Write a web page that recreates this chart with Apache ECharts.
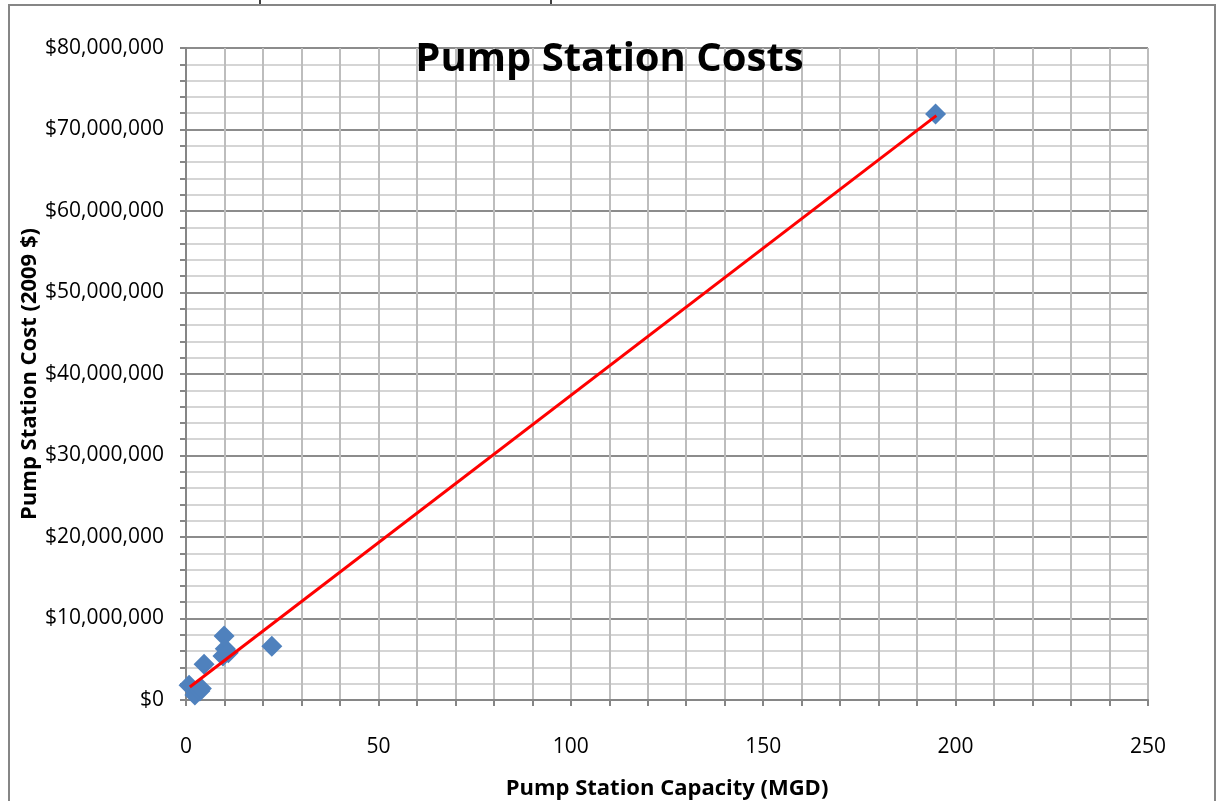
<!DOCTYPE html>
<html>
<head>
<meta charset="utf-8">
<script src="https://cdn.jsdelivr.net/npm/echarts@6/dist/echarts.min.js"></script>
<style>html,body{margin:0;padding:0;background:#fff}#c{width:1219px;height:801px}</style>
</head>
<body>
<div id="c"></div>
<script>
// Data (capacity in MGD, cost in 2009 $)
const capacityMGD = [0.8, 2.3, 3.6, 4.0, 4.7, 9.9, 10.2, 9.6, 11.0, 22.3, 194.8];
const cost2009 = [1800000, 600000, 1100000, 1400000, 4400000, 7850000, 6300000, 5400000, 5800000, 6600000, 71900000];
const trendX = [1, 195];
const trendY = [1600000, 71700000];
const xTickLabels = [0, 50, 100, 150, 200, 250];

const points = capacityMGD.map((x, i) => [x, cost2009[i]]);
const trend = trendX.map((x, i) => [x, trendY[i]]);

const FONT = 'Open Sans';
const chart = echarts.init(document.getElementById('c'));
chart.setOption({
  animation: false,
  backgroundColor: '#ffffff',
  title: {
    text: 'Pump Station Costs',
    left: 'center',
    top: 35,
    textStyle: { fontFamily: FONT, fontWeight: 'bold', fontSize: 40, color: '#000' }
  },
  grid: { left: 186, right: 71, top: 48, bottom: 101, containLabel: false, outerBoundsMode: 'none' },
  xAxis: {
    type: 'value', min: 0, max: 250, interval: 10,
    name: 'Pump Station Capacity (MGD)', nameLocation: 'middle', nameGap: 78,
    nameTextStyle: { fontFamily: FONT, fontWeight: 'bold', fontSize: 22, color: '#000' },
    axisLine: { show: true, onZero: false, lineStyle: { color: '#868686', width: 2 } },
    axisTick: { show: true, length: 6, lineStyle: { color: '#868686', width: 2 } },
    axisLabel: {
      margin: 37, fontFamily: FONT, fontSize: 21, color: '#000',
      formatter: v => xTickLabels.indexOf(v) >= 0 ? String(v) : ''
    },
    splitLine: { show: true, lineStyle: { color: '#bdbdbd', width: 2 } }
  },
  yAxis: {
    type: 'value', min: 0, max: 80000000, interval: 10000000,
    name: 'Pump Station Cost (2009 $)', nameLocation: 'middle', nameGap: 145,
    nameMoveOverlap: false,
    nameTextStyle: { fontFamily: FONT, fontWeight: 'bold', fontSize: 22, color: '#000' },
    axisLine: { show: true, onZero: false, lineStyle: { color: '#868686', width: 2 } },
    axisTick: { show: true, length: 6, lineStyle: { color: '#868686', width: 2 } },
    minorTick: { show: true, splitNumber: 5, length: 6, lineStyle: { color: '#868686', width: 2 } },
    axisLabel: {
      margin: 22, fontFamily: FONT, fontSize: 21, color: '#000',
      formatter: v => '$' + Math.round(v).toLocaleString('en-US')
    },
    splitLine: { show: true, lineStyle: { color: '#8c8c8c', width: 2 } },
    minorSplitLine: { show: true, lineStyle: { color: '#c8c8c8', width: 1.5 } }
  },
  series: [
    {
      type: 'scatter', data: points, symbol: 'diamond', symbolSize: [21, 21],
      itemStyle: { color: '#4f81bd', opacity: 1 }, z: 3
    },
    {
      type: 'line', data: trend, symbol: 'none',
      lineStyle: { color: '#ff0000', width: 3 }, z: 4
    }
  ],
  graphic: [
    { type: 'rect', shape: { x: 9, y: 5, width: 1206, height: 810 }, style: { fill: 'none', stroke: '#868686', lineWidth: 2 }, z: 100 },
    { type: 'line', shape: { x1: 260, y1: 0, x2: 260, y2: 4 }, style: { stroke: '#000', lineWidth: 1.5 } },
    { type: 'line', shape: { x1: 551, y1: 0, x2: 551, y2: 4 }, style: { stroke: '#000', lineWidth: 1.5 } }
  ]
});
</script>
</body>
</html>
